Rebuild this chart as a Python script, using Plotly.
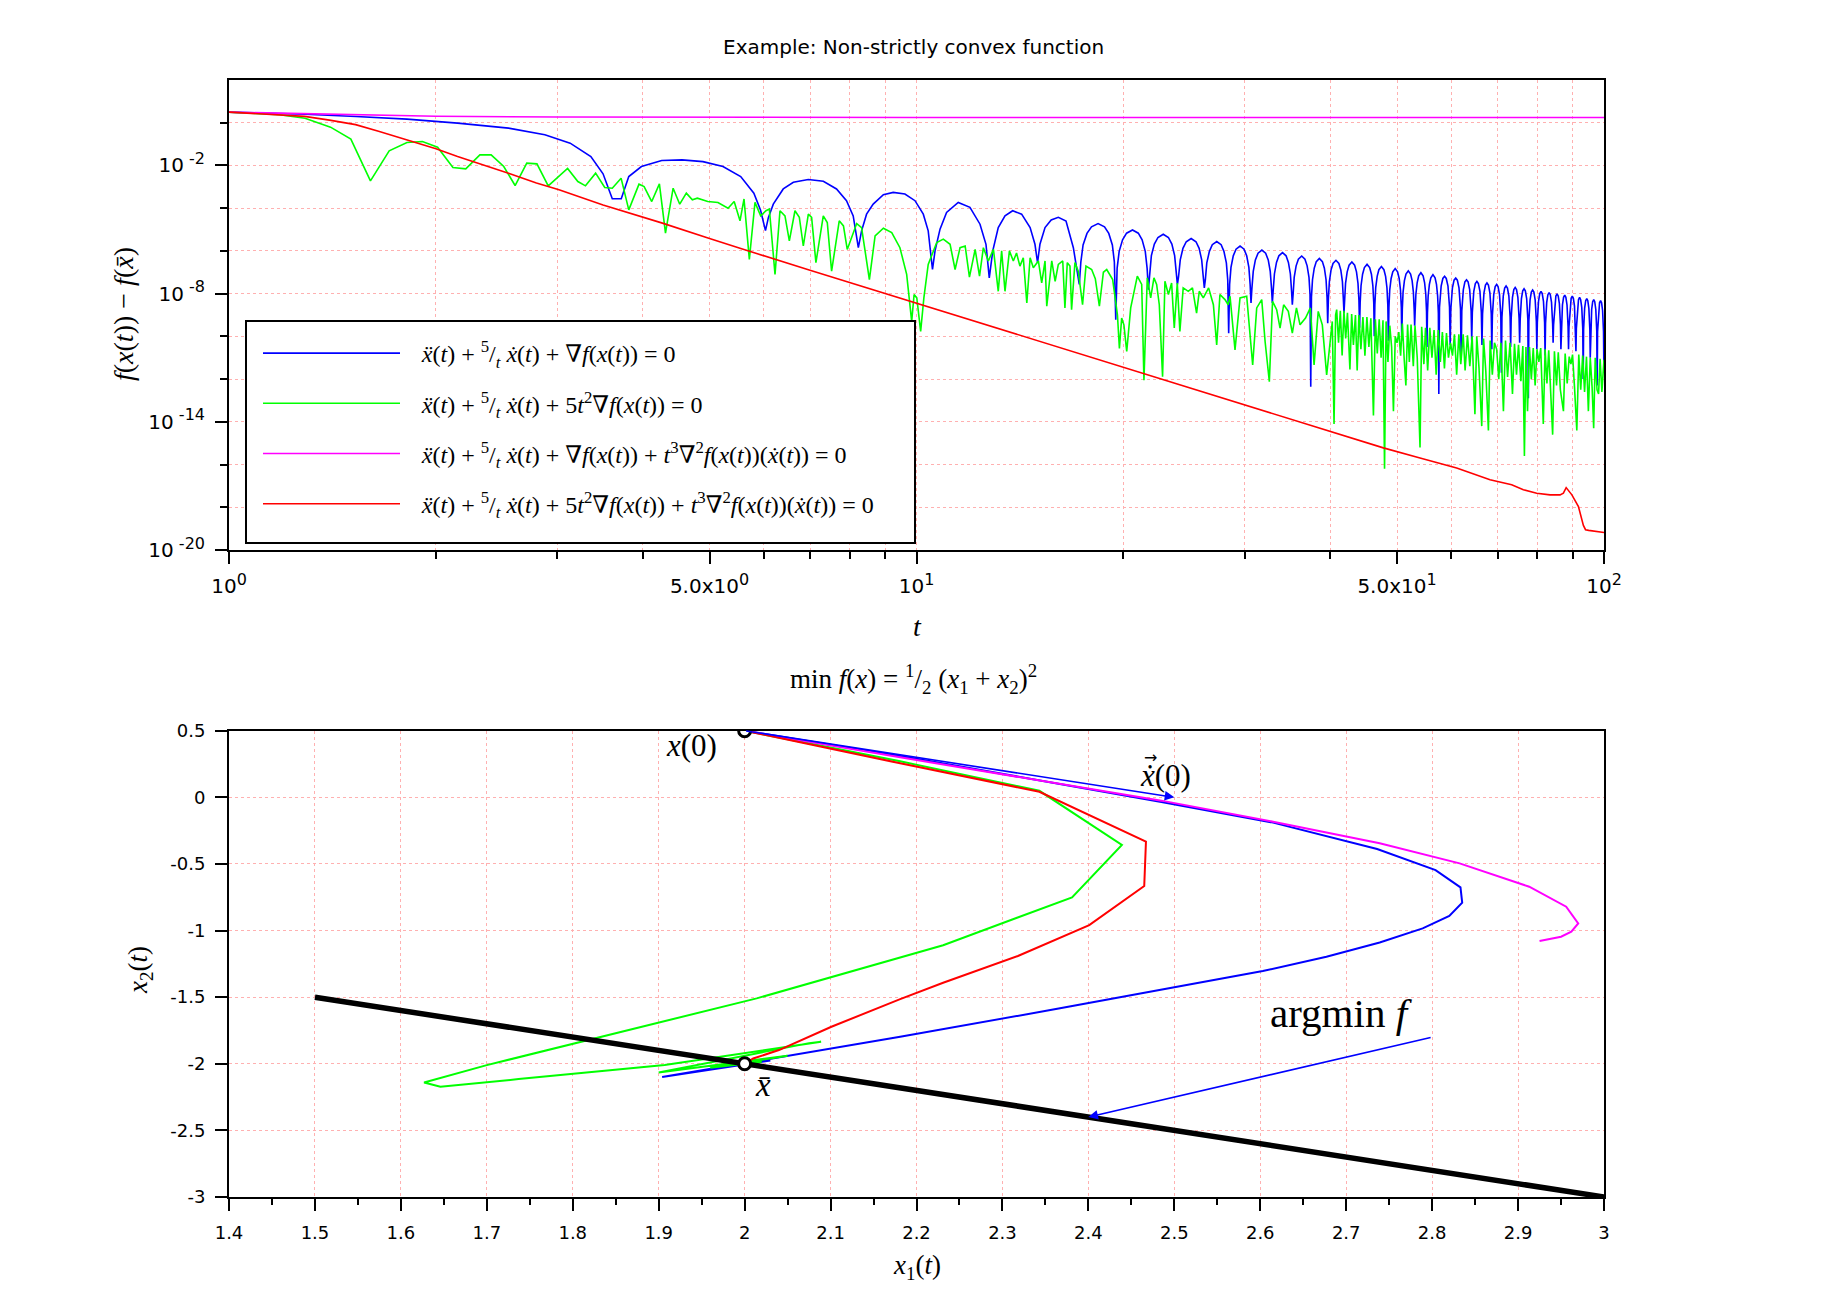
import plotly.graph_objects as go

# ---------------- top panel: f(x(t)) - f(xbar) versus t (log-log) ----------------
# values; the gap is stored as its base-10 exponent
BLUE_T = [1.0, 1.29, 1.53, 1.815, 2.15, 2.55, 2.88, 3.135, 3.36, 3.50, 3.61, 3.72, 3.815, 3.98, 4.26,
          4.56, 4.89, 5.23, 5.55, 5.80, 5.93, 6.03, 6.09, 6.19, 6.40, 6.62, 6.96, 7.32, 7.65, 7.91,
          8.09, 8.23, 8.32, 8.46, 8.65, 8.95, 9.25, 9.62, 9.95, 10.23, 10.40, 10.55, 10.64, 10.82, 11.06,
          11.5, 11.96, 12.37, 12.62, 12.76, 12.91, 13.15, 13.45, 13.8, 14.22, 14.63, 14.87, 15.0, 15.12,
          15.38, 15.7, 16.08, 16.5, 16.91, 17.25,
          17.34, 17.47, 17.70, 17.97, 18.37, 18.77, 19.04, 19.27, 19.40, 19.49,
          19.58, 19.715, 19.94, 20.21, 20.615, 21.02, 21.29, 21.515, 21.65, 21.74,
          21.83, 21.96, 22.18, 22.45, 22.85, 23.25, 23.52, 23.74, 23.87, 23.96,
          24.05, 24.19, 24.41, 24.68, 25.09, 25.50, 25.77, 25.99, 26.13, 26.22,
          26.31, 26.44, 26.67, 26.93, 27.335, 27.74, 28.0, 28.23, 28.36, 28.45,
          28.54, 28.67, 28.89, 29.16, 29.555, 29.95, 30.22, 30.44, 30.57, 30.66,
          30.75, 30.89, 31.11, 31.39, 31.795, 32.20, 32.48, 32.70, 32.84, 32.93,
          33.02, 33.16, 33.39, 33.66, 34.07, 34.48, 34.75, 34.98, 35.12, 35.21,
          35.30, 35.43, 35.66, 35.93, 36.33, 36.73, 37.0, 37.23, 37.36, 37.45,
          37.54, 37.67, 37.89, 38.15, 38.545, 38.94, 39.20, 39.42, 39.55, 39.64,
          39.73, 39.86, 40.08, 40.35, 40.75, 41.15, 41.42, 41.64, 41.77, 41.86,
          41.95, 42.08, 42.31, 42.58, 42.98, 43.38, 43.65, 43.87, 44.01, 44.10,
          44.19, 44.32, 44.55, 44.82, 45.22, 45.62, 45.89, 46.11, 46.25, 46.33,
          46.42, 46.55, 46.78, 47.05, 47.45, 47.85, 48.12, 48.34, 48.48, 48.57,
          48.66, 48.79, 49.02, 49.29, 49.69, 50.09, 50.36, 50.58, 50.72, 50.80,
          50.89, 51.02, 51.25, 51.52, 51.92, 52.32, 52.59, 52.81, 52.95, 53.04,
          53.13, 53.26, 53.49, 53.76, 54.16, 54.56, 54.83, 55.05, 55.19, 55.27,
          55.36, 55.49, 55.72, 55.99, 56.39, 56.79, 57.06, 57.28, 57.42, 57.51,
          57.64, 57.96, 58.29, 58.63, 58.96, 59.30, 59.61, 59.74,
          59.87, 60.19, 60.52, 60.86, 61.19, 61.53, 61.84, 61.98,
          62.11, 62.43, 62.76, 63.10, 63.43, 63.77, 64.08, 64.21,
          64.34, 64.66, 64.99, 65.33, 65.66, 66.00, 66.31, 66.45,
          66.58, 66.90, 67.23, 67.57, 67.90, 68.24, 68.55, 68.68,
          68.81, 69.13, 69.46, 69.80, 70.13, 70.47, 70.78, 70.92,
          71.05, 71.37, 71.70, 72.04, 72.37, 72.71, 73.02, 73.15,
          73.28, 73.60, 73.93, 74.27, 74.60, 74.94, 75.25, 75.39,
          75.52, 75.84, 76.17, 76.51, 76.84, 77.18, 77.49, 77.62,
          77.75, 78.07, 78.40, 78.74, 79.07, 79.41, 79.72, 79.86,
          79.99, 80.31, 80.64, 80.98, 81.31, 81.65, 81.96, 82.09,
          82.22, 82.54, 82.87, 83.21, 83.54, 83.88, 84.19, 84.33,
          84.46, 84.78, 85.11, 85.45, 85.78, 86.12, 86.43, 86.56,
          86.69, 87.01, 87.34, 87.68, 88.01, 88.35, 88.66, 88.80,
          88.93, 89.25, 89.58, 89.92, 90.25, 90.59, 90.90, 91.03,
          91.16, 91.48, 91.81, 92.15, 92.48, 92.82, 93.13, 93.27,
          93.40, 93.72, 94.05, 94.39, 94.72, 95.06, 95.37, 95.50,
          95.63, 95.95, 96.28, 96.62, 96.95, 97.29, 97.60, 97.74,
          97.87, 98.19, 98.52, 98.86, 99.19, 99.53, 99.84, 99.97]
BLUE_LOG10 = [0.495, 0.40, 0.29, 0.167, -0.02, -0.254, -0.566, -0.956, -1.58, -2.39, -3.56, -3.56, -2.52, -2.05, -1.77,
              -1.74, -1.82, -2.05, -2.52, -3.30, -4.08, -5.05, -4.43, -3.81, -3.10, -2.79, -2.66, -2.74, -3.10, -3.65,
              -4.36, -5.85, -5.06, -4.28, -3.81, -3.37, -3.26, -3.34, -3.65, -4.28, -5.06, -6.87, -6.0, -4.98, -4.2,
              -3.73, -3.96, -4.75, -5.69, -7.26, -6.0, -4.91, -4.36, -4.12, -4.28, -4.91, -5.69, -6.55, -5.69,
              -4.91, -4.55, -4.43, -4.6, -5.85, -7.57,
              -6.52, -5.72, -5.18, -4.87, -4.72, -4.87, -5.18, -5.72, -6.52, -9.22,
              -6.82, -6.02, -5.48, -5.17, -5.02, -5.17, -5.48, -6.02, -6.82, -7.81,
              -7.02, -6.22, -5.68, -5.37, -5.22, -5.37, -5.68, -6.22, -7.02, -7.57,
              -7.22, -6.42, -5.88, -5.57, -5.42, -5.57, -5.88, -6.42, -7.22, -7.73,
              -7.36, -6.56, -6.02, -5.71, -5.56, -5.71, -6.02, -6.56, -7.36, -9.85,
              -7.57, -6.77, -6.23, -5.92, -5.77, -5.92, -6.23, -6.77, -7.57, -8.44,
              -7.76, -6.96, -6.42, -6.11, -5.96, -6.11, -6.42, -6.96, -7.76, -8.44,
              -7.88, -7.08, -6.54, -6.23, -6.08, -6.23, -6.54, -7.08, -7.88, -8.52,
              -8.04, -7.24, -6.70, -6.39, -6.24, -6.39, -6.70, -7.24, -8.04, -12.36,
              -8.15, -7.35, -6.81, -6.50, -6.35, -6.50, -6.81, -7.35, -8.15, -9.38,
              -8.24, -7.44, -6.90, -6.59, -6.44, -6.59, -6.90, -7.44, -8.24, -8.91,
              -8.32, -7.52, -6.98, -6.67, -6.52, -6.67, -6.98, -7.52, -8.32, -9.6,
              -8.43, -7.63, -7.09, -6.78, -6.63, -6.78, -7.09, -7.63, -8.43, -10.0,
              -8.53, -7.73, -7.19, -6.88, -6.73, -6.88, -7.19, -7.73, -8.53, -10.2,
              -8.63, -7.83, -7.29, -6.98, -6.83, -6.98, -7.29, -7.83, -8.63, -10.2,
              -8.73, -7.93, -7.39, -7.08, -6.93, -7.08, -7.39, -7.93, -8.73, -9.5,
              -8.82, -8.02, -7.48, -7.17, -7.02, -7.17, -7.48, -8.02, -8.82, -10.5,
              -8.91, -8.11, -7.57, -7.26, -7.11, -7.26, -7.57, -8.11, -8.91, -12.7,
              -8.64, -7.65, -7.29, -7.19, -7.29, -7.65, -8.64, -10.4,
              -8.72, -7.73, -7.37, -7.27, -7.37, -7.73, -8.72, -11.1,
              -8.80, -7.81, -7.45, -7.35, -7.45, -7.81, -8.80, -10.2,
              -8.88, -7.89, -7.53, -7.43, -7.53, -7.89, -8.88, -10.4,
              -8.95, -7.96, -7.60, -7.50, -7.60, -7.96, -8.95, -10.6,
              -9.02, -8.03, -7.67, -7.57, -7.67, -8.03, -9.02, -11.7,
              -9.09, -8.10, -7.74, -7.64, -7.74, -8.10, -9.09, -10.5,
              -9.16, -8.17, -7.81, -7.71, -7.81, -8.17, -9.16, -10.3,
              -9.22, -8.23, -7.87, -7.77, -7.87, -8.23, -9.22, -12.9,
              -9.28, -8.29, -7.93, -7.83, -7.93, -8.29, -9.28, -10.6,
              -9.35, -8.36, -8.00, -7.90, -8.00, -8.36, -9.35, -10.9,
              -9.40, -8.41, -8.05, -7.95, -8.05, -8.41, -9.40, -10.3,
              -9.46, -8.47, -8.11, -8.01, -8.11, -8.47, -9.46, -10.6,
              -9.52, -8.53, -8.17, -8.07, -8.17, -8.53, -9.52, -10.6,
              -9.57, -8.58, -8.22, -8.12, -8.22, -8.58, -9.57, -10.7,
              -9.63, -8.64, -8.28, -8.18, -8.28, -8.64, -9.63, -12.0,
              -9.68, -8.69, -8.33, -8.23, -8.33, -8.69, -9.68, -11.0,
              -9.73, -8.74, -8.38, -8.28, -8.38, -8.74, -9.73, -12.3,
              -9.78, -8.79, -8.43, -8.33, -8.43, -8.79, -9.78, -11.7]

GREEN_T = [1.0, 1.185, 1.29, 1.405, 1.504, 1.606, 1.71, 1.815, 1.911, 2.011, 2.117, 2.21, 2.317, 2.406,
           2.51, 2.607, 2.711, 2.805, 2.913, 3.108, 3.217, 3.30, 3.414, 3.52, 3.61, 3.718, 3.815, 3.948,
           4.016, 4.12, 4.227, 4.314, 4.426, 4.525, 4.626, 4.72, 4.80, 4.97, 5.143, 5.32, 5.43, 5.537,
           5.612, 5.713, 5.822, 5.934, 6.04, 6.109, 6.226, 6.33, 6.437, 6.532, 6.656, 6.754, 6.845, 6.961,
           7.038, 7.14, 7.318, 7.417, 7.525, 7.72, 7.83, 7.93, 8.185, 8.32, 8.54, 8.705, 8.95, 9.204,
           9.46, 9.676, 9.84, 9.92, 10.01, 10.14, 10.25, 10.40, 10.70, 10.94, 11.19, 11.38, 11.57, 11.77,
           11.94, 12.17, 12.35, 12.51, 12.72, 12.94, 13.15, 13.30, 13.45, 13.65, 13.83, 13.98, 14.14, 14.30,
           14.47, 14.63, 14.79, 15.04, 15.21, 15.38, 15.47, 15.73, 15.91, 16.08, 16.32, 16.44, 16.57, 16.72,
           16.81, 17.0, 17.19, 17.44, 17.64, 17.98, 18.2, 18.45, 18.7, 18.91, 19.29, 19.60, 19.73, 19.88,
           20.03, 20.22, 20.49, 20.95, 21.26, 21.42, 21.66, 21.91, 22.15, 22.35, 22.55, 22.80, 22.98, 23.25,
           23.50, 23.71, 23.95, 24.16, 24.43, 24.85, 25.2, 25.55, 25.78, 26.13, 26.6, 27.03, 27.33, 27.63,
           28.1, 28.4, 28.58, 29.06, 29.55, 30.22, 30.83, 31.25, 31.78, 32.14, 32.60, 32.95, 33.41, 33.79,
           34.2, 34.74, 35.21, 35.7, 36.13, 36.8, 37.4, 37.87, 38.4, 38.93, 39.5, 40.04, 40.25, 40.49,
           40.7, 40.85, 41.1, 41.35, 41.6, 41.85, 42.1, 42.35, 42.7, 42.95, 43.2, 43.5, 43.75, 44.0,
           44.3, 44.6, 44.9, 45.2, 45.5, 45.8, 46.2, 46.5, 46.8, 47.1, 47.4, 47.7, 47.95, 48.2,
           48.5, 48.8, 49.1, 49.4, 49.7, 50.0, 50.3, 50.6, 50.9, 51.2, 51.5, 51.8, 52.1, 52.4,
           52.8, 53.1, 53.5, 54.0, 54.3, 54.7, 55.0, 55.4, 55.8, 56.2, 56.6, 57.0, 57.4, 57.8,
           58.2, 58.6, 59.0, 59.4, 59.8, 60.2, 60.6, 61.05, 61.5, 61.9, 62.4, 62.8, 63.3, 63.8,
           64.3, 64.9, 65.3, 65.8, 66.4, 66.8, 67.3, 67.9, 68.3, 68.8, 69.3, 69.8, 70.3, 70.8,
           71.4, 71.9, 72.4, 73.0, 73.6, 74.1, 74.6, 75.1, 75.7, 76.2, 76.6, 77.0, 77.4, 77.9,
           78.4, 78.9, 79.4, 79.9, 80.4, 80.9, 81.6, 82.1, 82.6, 83.1, 83.6, 84.2, 84.7, 85.3,
           85.8, 86.4, 87.3, 87.8, 88.4, 89.0, 89.5, 90.0, 90.6, 91.3, 91.9, 92.5, 93.1, 93.7,
           94.3, 94.9, 95.5, 96.1, 96.6, 97.1, 97.7, 98.2, 98.7, 99.3, 100.0]
GREEN_LOG10 = [0.495, 0.37, 0.214, -0.207, -0.769, -2.72, -1.315, -0.925, -0.878, -1.144, -2.096, -2.158, -1.503, -1.503,
               -2.049, -2.939, -1.893, -1.924, -2.954, -2.143, -2.752, -2.954, -2.361, -3.032, -3.064, -2.595, -4.078, -2.877,
               -2.986, -3.688, -2.861, -5.171, -3.064, -3.813, -3.298, -3.61, -3.532, -3.688, -3.735, -4.0, -3.688, -4.59,
               -3.57, -6.40, -3.73, -4.36, -4.12, -4.04, -7.10, -4.12, -4.36, -5.53, -4.12, -4.43, -5.77, -4.28,
               -4.43, -6.55, -4.36, -4.67, -6.95, -4.59, -4.83, -5.93, -4.72, -4.91, -7.34, -5.30, -4.94, -5.14,
               -5.85, -7.10, -9.30, -8.04, -8.20, -9.77, -8.20, -6.63, -5.61, -5.45, -5.69, -6.87, -5.85, -5.77,
               -7.23, -5.93, -7.18, -5.85, -6.47, -5.93, -7.89, -6.0, -7.89, -6.0, -6.47, -6.1, -6.71, -6.32,
               -8.44, -6.32, -6.79, -6.47, -7.50, -6.47, -8.59, -6.47, -7.42, -6.63, -6.47, -8.67, -6.55, -6.71,
               -8.75, -6.55, -6.95, -8.52, -6.71, -6.87, -7.3, -8.59, -7.0, -6.87, -7.34, -8.99, -10.56, -9.14,
               -9.46, -10.71, -8.67, -7.18, -7.57, -12.05, -7.26, -8.20, -7.26, -7.57, -8.52, -11.89, -7.42, -8.04,
               -7.50, -9.61, -7.50, -9.77, -7.73, -7.89, -7.73, -8.91, -7.89, -8.20, -7.73, -8.52, -10.40, -8.04,
               -8.28, -8.52, -8.12, -10.63, -8.20, -8.12, -11.34, -8.67, -8.28, -10.24, -12.12, -8.36, -8.75, -9.61,
               -8.52, -8.83, -9.85, -8.67, -9.46, -9.14, -8.67, -11.34, -8.83, -9.46, -11.81, -9.85, -9.3, -14.1,
               -9.0, -8.75, -10.3, -8.8, -10.9, -8.8, -10.1, -8.9, -11.55, -8.95, -10.4, -9.0, -11.6, -9.0,
               -10.6, -9.1, -10.9, -9.1, -10.5, -9.15, -13.7, -9.2, -10.8, -9.2, -11.0, -9.25, -16.2, -9.3,
               -11.2, -9.5, -10.5, -13.5, -10.0, -10.3, -9.8, -10.9, -9.4, -11.0, -12.3, -9.45, -11.2, -9.45,
               -11.4, -9.5, -11.0, -15.2, -9.55, -11.3, -9.6, -11.6, -9.6, -11.0, -9.7, -11.8, -9.7, -11.2,
               -9.8, -11.5, -9.85, -11.0, -10.3, -10.9, -9.9, -11.8, -9.9, -11.3, -9.9, -11.6, -9.95, -11.4,
               -10.0, -13.65, -10.0, -11.5, -14.2, -10.1, -11.6, -14.4, -10.2, -11.8, -10.3, -10.6, -12.0, -10.3,
               -13.5, -10.2, -11.9, -10.3, -12.7, -10.35, -11.8, -10.4, -12.1, -10.45, -15.6, -10.5, -13.5, -10.5,
               -12.0, -10.55, -12.3, -10.6, -11.2, -10.55, -14.1, -10.6, -12.2, -10.65, -12.4, -14.6, -10.7, -12.3,
               -10.75, -12.5, -13.5, -10.8, -12.2, -10.95, -11.3, -10.85, -12.4, -14.4, -10.85, -12.5, -10.9, -12.6,
               -10.95, -13.5, -11.0, -12.4, -14.3, -11.0, -12.5, -12.7, -11.05, -12.6, -11.1]

MAGENTA_T = [1.0, 1.2, 1.5, 2.0, 3.0, 5.0, 10.0, 100.0]
MAGENTA_LOG10 = [0.495, 0.44, 0.36, 0.30, 0.265, 0.25, 0.247, 0.245]

RED_T = [1.0, 1.15, 1.288, 1.4, 1.528, 1.65, 1.81, 2.0, 2.15, 2.35, 2.55, 2.8, 3.02, 3.5, 4.27, 5.0,
         5.537, 7.0, 9.0, 12.0, 16.17, 20.0, 30.0, 39.95, 47.76, 54.0, 61.05, 68.27, 73.4, 76.33,
         79.82, 83.47, 86.3, 87.28, 88.1, 89.8, 91.8, 93.33, 94.0, 95.0, 99.8, 100.0]
RED_LOG10 = [0.495, 0.40, 0.296, 0.12, -0.09, -0.40, -0.80, -1.22, -1.58, -1.98, -2.36, -2.82, -3.14, -3.85, -4.7, -5.42,
             -5.88, -6.90, -7.99, -9.24, -10.55, -11.47, -13.22, -14.44, -15.22, -15.69, -16.16, -16.71, -16.95, -17.18,
             -17.34, -17.42, -17.42, -17.34, -17.08, -17.42, -17.97, -18.85, -19.05, -19.08, -19.18, -19.18]

SUP = "<sup><span style='font-size:16px'>%s</span></sup>"
TOP_X_TICKS = [1, 5, 10, 50, 100]
TOP_X_TICKTEXT = ["10" + SUP % "0", "5.0x10" + SUP % "0", "10" + SUP % "1", "5.0x10" + SUP % "1", "10" + SUP % "2"]
TOP_X_MINOR = [2, 3, 4, 6, 7, 8, 9, 20, 30, 40, 60, 70, 80, 90]
TOP_Y_TICKS = [1e-20, 1e-14, 1e-8, 1e-2]
TOP_Y_TICKTEXT = ["10" + SUP % " -20", "10" + SUP % " -14", "10" + SUP % " -8", "10" + SUP % " -2"]
TOP_Y_MINOR = [1e-18, 1e-16, 1e-12, 1e-10, 1e-6, 1e-4, 1]

# ---------------- bottom panel: trajectories in the (x1, x2) plane ----------------
BLUE_X1 = [2.0, 2.2, 2.485, 2.615, 2.736, 2.804, 2.833, 2.835, 2.82, 2.789, 2.739, 2.677, 2.603, 2.491,
           2.367, 2.181, 1.904, 2.03, 1.985, 2.005, 2.0]
BLUE_X2 = [0.5, 0.29, -0.035, -0.19, -0.388, -0.546, -0.676, -0.791, -0.891, -0.984, -1.09, -1.197, -1.304, -1.439,
           -1.584, -1.797, -2.10, -1.975, -2.015, -1.995, -2.0]
GREEN_X1 = [2.0, 2.181, 2.343, 2.439, 2.381, 2.231, 2.014, 1.768, 1.70, 1.627, 1.646, 1.737, 1.907, 2.089,
            2.075, 1.90, 2.05, 1.96, 2.02, 2.0]
GREEN_X2 = [0.5, 0.27, 0.049, -0.358, -0.751, -1.11, -1.509, -1.897, -2.01, -2.14, -2.173, -2.115, -2.01, -1.835,
            -1.845, -2.065, -1.94, -2.03, -1.985, -2.0]
MAGENTA_X1 = [2.0, 2.181, 2.485, 2.615, 2.739, 2.832, 2.913, 2.956, 2.970, 2.962, 2.95, 2.925]
MAGENTA_X2 = [0.5, 0.30, -0.025, -0.183, -0.345, -0.496, -0.671, -0.821, -0.946, -1.009, -1.046, -1.079]
RED_X1 = [2.0, 2.181, 2.343, 2.467, 2.465, 2.401, 2.318, 2.231, 2.181, 2.101, 2.04, 2.01, 2.0]
RED_X2 = [0.5, 0.255, 0.042, -0.333, -0.666, -0.959, -1.191, -1.392, -1.515, -1.722, -1.897, -1.96, -2.0]
ARGMIN_X1 = [1.5, 3.0]
ARGMIN_X2 = [-1.5, -3.0]
X0 = [2.0, 0.5]
XBAR = [2.0, -2.0]
XDOT0_TIP = [2.5, 0.0]
ARGMIN_ARROW_TAIL = [2.8, -1.8]
ARGMIN_ARROW_HEAD = [2.4, -2.4]

BOT_X_TICKS = [1.4, 1.5, 1.6, 1.7, 1.8, 1.9, 2.0, 2.1, 2.2, 2.3, 2.4, 2.5, 2.6, 2.7, 2.8, 2.9, 3.0]
BOT_X_TICKTEXT = ["1.4", "1.5", "1.6", "1.7", "1.8", "1.9", "2", "2.1", "2.2", "2.3", "2.4", "2.5", "2.6",
                  "2.7", "2.8", "2.9", "3"]
BOT_X_MINOR = [1.45, 1.55, 1.65, 1.75, 1.85, 1.95, 2.05, 2.15, 2.25, 2.35, 2.45, 2.55, 2.65, 2.75, 2.85, 2.95]
BOT_Y_TICKS = [-3.0, -2.5, -2.0, -1.5, -1.0, -0.5, 0.0, 0.5]
BOT_Y_TICKTEXT = ["-3", "-2.5", "-2", "-1.5", "-1", "-0.5", "0", "0.5"]

COLORS = {"blue": "#0000ff", "green": "#00ff00", "magenta": "#ff00ff", "red": "#ff0000"}
SERIF = "Liberation Serif, DejaVu Serif, serif"
SANS = "DejaVu Sans, sans-serif"
GRID = "#ffb0b0"

XDD = "<i>x\u0308</i>(<i>t</i>)"
XD = "<i>x\u0307</i>(<i>t</i>)"
FR = "<sup>5</sup>/<sub><i>t</i></sub>"
GF = "\u2207<i>f</i>(<i>x</i>(<i>t</i>))"
HESS = "<i>t</i><sup>3</sup>\u2207<sup>2</sup><i>f</i>(<i>x</i>(<i>t</i>))(" + XD + ")"
PAD = "\u2002\u2009"
LABELS = [
    PAD + XDD + " + " + FR + " " + XD + " + " + GF + " = 0",
    PAD + XDD + " + " + FR + " " + XD + " + 5<i>t</i><sup>2</sup>" + GF + " = 0",
    PAD + XDD + " + " + FR + " " + XD + " + " + GF + " + " + HESS + " = 0",
    PAD + XDD + " + " + FR + " " + XD + " + 5<i>t</i><sup>2</sup>" + GF + " + " + HESS + " = 0",
]

fig = go.Figure()
series = [("blue", BLUE_T, BLUE_LOG10), ("green", GREEN_T, GREEN_LOG10),
          ("magenta", MAGENTA_T, MAGENTA_LOG10), ("red", RED_T, RED_LOG10)]
for (name, ts, exps), label in zip(series, LABELS):
    fig.add_trace(go.Scatter(x=ts, y=[10.0 ** e for e in exps], mode="lines", name=label,
                             legendgroup=name, line=dict(color=COLORS[name], width=1.6),
                             xaxis="x", yaxis="y"))

for name, xs, ys in [("blue", BLUE_X1, BLUE_X2), ("green", GREEN_X1, GREEN_X2),
                     ("magenta", MAGENTA_X1, MAGENTA_X2), ("red", RED_X1, RED_X2)]:
    fig.add_trace(go.Scatter(x=xs, y=ys, mode="lines", showlegend=False,
                             line=dict(color=COLORS[name], width=2), xaxis="x2", yaxis="y2"))
fig.add_trace(go.Scatter(x=ARGMIN_X1, y=ARGMIN_X2, mode="lines", showlegend=False,
                         line=dict(color="black", width=5.5), xaxis="x2", yaxis="y2"))
fig.add_trace(go.Scatter(x=[X0[0], XBAR[0]], y=[X0[1], XBAR[1]], mode="markers", showlegend=False,
                         marker=dict(symbol="circle", size=12, color="white", line=dict(color="black", width=3)),
                         xaxis="x2", yaxis="y2"))

axis_common = dict(showline=True, linecolor="black", linewidth=2, mirror=True, ticks="outside",
                   tickcolor="black", tickwidth=1.5, ticklen=12, showgrid=True, gridcolor=GRID,
                   griddash="dot", gridwidth=1, zeroline=False, automargin=False,
                   tickfont=dict(family=SANS, size=18, color="black"))
minor_common = dict(tickmode="array", ticks="outside", ticklen=7, tickwidth=1.5, tickcolor="black",
                    showgrid=True, gridcolor=GRID, griddash="dot", gridwidth=1)
top_tickfont = dict(family=SANS, size=20, color="black")

W, H = 1836, 1292
L, R, T, B = 229, 232, 80, 95
PW, PH = W - L - R, H - T - B


def px(xp):
    return (xp - L) / PW


def py(yp):
    return (H - B - yp) / PH


fig.update_layout(
    width=W, height=H, margin=dict(l=L, r=R, t=T, b=B),
    paper_bgcolor="white", plot_bgcolor="white",
    xaxis=dict(axis_common, domain=[0, 1], anchor="y", type="log", range=[0, 2], tickfont=top_tickfont,
               tickmode="array", tickvals=TOP_X_TICKS, ticktext=TOP_X_TICKTEXT, ticklabelstandoff=5,
               minor=dict(minor_common, tickvals=TOP_X_MINOR)),
    yaxis=dict(axis_common, domain=[py(550), 1], anchor="x", type="log", range=[-20, 2], tickfont=top_tickfont,
               tickmode="array", tickvals=TOP_Y_TICKS, ticktext=TOP_Y_TICKTEXT, ticklabelstandoff=6,
               minor=dict(minor_common, tickvals=TOP_Y_MINOR)),
    xaxis2=dict(axis_common, domain=[0, 1], anchor="y2", range=[1.4, 3.0],
                tickmode="array", tickvals=BOT_X_TICKS, ticktext=BOT_X_TICKTEXT, ticklabelstandoff=6,
                minor=dict(tickmode="array", tickvals=BOT_X_MINOR, ticks="outside", ticklen=6,
                           tickwidth=1.5, tickcolor="black", showgrid=False)),
    yaxis2=dict(axis_common, domain=[0, py(730.7)], anchor="x2", range=[-3, 0.5],
                tickmode="array", tickvals=BOT_Y_TICKS, ticktext=BOT_Y_TICKTEXT, ticklabelstandoff=6),
    legend=dict(x=px(258), y=py(331), xanchor="left", yanchor="top", bgcolor="white",
                borderwidth=0, itemwidth=137, tracegroupgap=16,
                font=dict(family=SERIF, size=24, color="black")),
    showlegend=True,
    # white, black-edged box behind the legend entries
    shapes=[dict(type="rect", xref="paper", yref="paper", x0=px(246), x1=px(915), y0=py(543), y1=py(321),
                 fillcolor="white", opacity=1, line=dict(color="black", width=2), layer="above")],
)

ann = [
    dict(text="Example: Non-strictly convex function", x=px(913), y=py(47),
         font=dict(family=SANS, size=20, color="black")),
    dict(text="<i>t</i>", x=px(917), y=py(626), font=dict(family=SERIF, size=28, color="black")),
    dict(text="<i>f</i>(<i>x</i>(<i>t</i>)) \u2212 <i>f</i>(<i>x\u0304</i>)", x=px(123), y=py(314),
         textangle=-90, font=dict(family=SERIF, size=28, color="black")),
    dict(text="min <i>f</i>(<i>x</i>) = <sup>1</sup>/<sub>2</sub> (<i>x</i><sub>1</sub> + <i>x</i><sub>2</sub>)<sup>2</sup>",
         x=px(913), y=py(679), font=dict(family=SERIF, size=27, color="black")),
    dict(text="<i>x</i><sub>1</sub>(<i>t</i>)", x=px(917), y=py(1267),
         font=dict(family=SERIF, size=27, color="black")),
    dict(text="<i>x</i><sub>2</sub>(<i>t</i>)", x=px(140), y=py(970), textangle=-90,
         font=dict(family=SERIF, size=27, color="black")),
]
for a in ann:
    a.update(xref="paper", yref="paper", showarrow=False, xanchor="center", yanchor="middle")
    fig.add_annotation(**a)

# labels and arrows inside the bottom panel (data coordinates)
fig.add_annotation(x=1.938, y=0.386, xref="x2", yref="y2", text="<i>x</i>(0)", showarrow=False,
                   font=dict(family=SERIF, size=31, color="black"))
fig.add_annotation(x=2.49, y=0.167, xref="x2", yref="y2", text="<i>x\u0307</i>(0)", showarrow=False,
                   font=dict(family=SERIF, size=31, color="black"))
fig.add_annotation(x=2.472, y=0.30, xref="x2", yref="y2", text="\u2192", showarrow=False,
                   font=dict(family=SANS, size=16, color="black"))
fig.add_annotation(x=2.021, y=-2.16, xref="x2", yref="y2", text="<i>x\u0304</i>", showarrow=False,
                   font=dict(family=SERIF, size=33, color="black"))
fig.add_annotation(x=2.694, y=-1.62, xref="x2", yref="y2", text="argmin <i>f</i>", showarrow=False,
                   font=dict(family=SERIF, size=41, color="black"))
fig.add_annotation(x=XDOT0_TIP[0], y=XDOT0_TIP[1], ax=X0[0], ay=X0[1], xref="x2", yref="y2",
                   axref="x2", ayref="y2", text="", showarrow=True, arrowhead=2, arrowsize=1.2,
                   arrowwidth=1.6, arrowcolor=COLORS["blue"])
fig.add_annotation(x=ARGMIN_ARROW_HEAD[0], y=ARGMIN_ARROW_HEAD[1], ax=ARGMIN_ARROW_TAIL[0],
                   ay=ARGMIN_ARROW_TAIL[1], xref="x2", yref="y2", axref="x2", ayref="y2", text="",
                   showarrow=True, arrowhead=2, arrowsize=1.2, arrowwidth=1.6, arrowcolor=COLORS["blue"])

fig.write_html("out.html")
